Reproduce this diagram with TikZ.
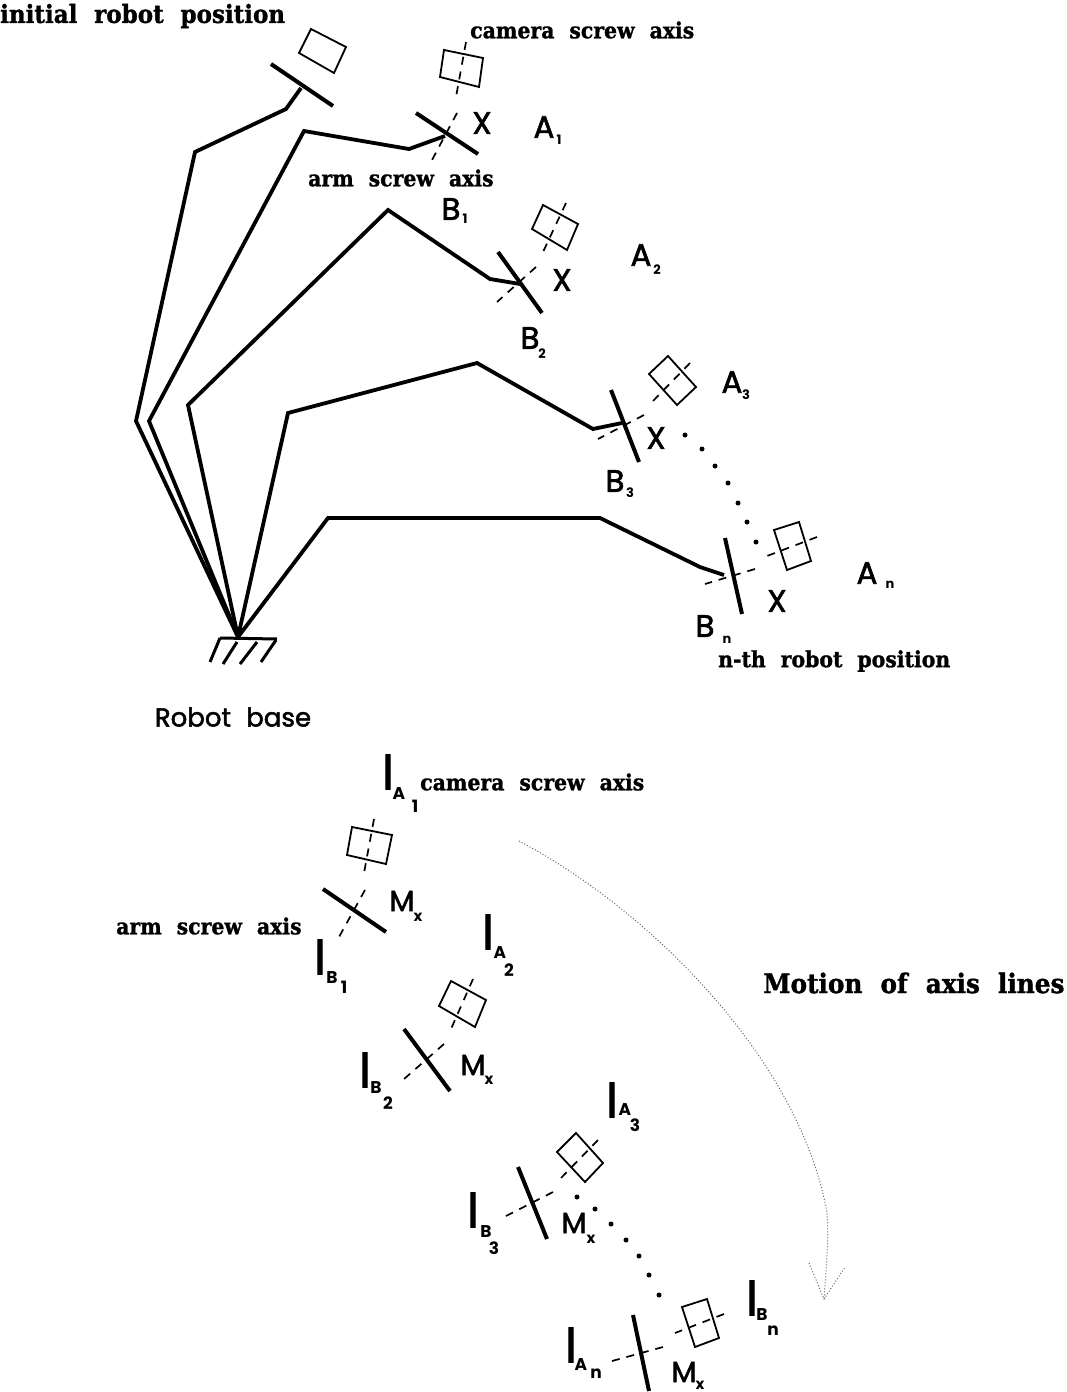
\documentclass[tikz,border=0pt]{standalone}
\usepackage{fontspec}
\usetikzlibrary{arrows.meta}
\newfontfamily\slabf[WordSpace=2.1,FakeStretch=0.92,FakeBold=1.2]{DejaVu Serif Bold}
\newfontfamily\gothf[WordSpace=2.2,FakeBold=2]{Poppins}
\newfontfamily\gothb{Poppins}
\tikzset{
 x=1pt,y=-1pt,
 armlink/.style={line width=3.8pt,line join=miter},
 flange/.style={line width=4pt},
 camrect/.style={line width=1.8pt,line join=miter},
 axisline/.style={line width=1.7pt,dash pattern=on 8pt off 7pt},
 slab/.style={font=\slabf\fontsize{22.2}{22.2}\selectfont,inner sep=0pt,anchor=west},
 biglet/.style={font=\gothf\fontsize{31}{31}\selectfont,inner sep=0pt},
 mlet/.style={font=\gothf\fontsize{29}{29}\selectfont,inner sep=0pt},
 sublet/.style={font=\gothb\bfseries\fontsize{13}{13}\selectfont,inner sep=0pt},
 capsm/.style={font=\gothb\bfseries\fontsize{17}{17}\selectfont,inner sep=0pt},
 barlet/.style={font=\gothf\fontsize{47}{47}\selectfont,inner sep=0pt},
 xsub/.style={font=\gothb\bfseries\fontsize{15}{15}\selectfont,inner sep=0pt},
 dotm/.style={circle,fill=black,inner sep=0pt,minimum size=5pt},
 motline/.style={line width=1pt,dotted,black!60},
}
\begin{document}
\begin{tikzpicture}
\useasboundingbox (0,0) rectangle (1067,1392);
\coordinate (base) at (238,637);
% robot links
\draw[armlink] (base) -- (136,421) -- (195,152) -- (286,109) -- (301,88);
\draw[armlink] (base) -- (149,421) -- (304,131) -- (409,149) -- (445,136);
\draw[armlink] (base) -- (188,405) -- (388,210) -- (490,279) -- (520,284);
\draw[armlink] (base) -- (288,413) -- (477,363) -- (593,429) -- (622,423);
\draw[armlink] (base) -- (328,518) -- (600,518) -- (700,567) -- (724,575);
% base hatch
\draw[line width=3pt] (220,638) -- (277,639);
\draw[line width=3pt] (220,638) -- (210,662);
\draw[line width=3pt] (237,642) -- (223,664);
\draw[line width=3pt] (257,642) -- (240,664);
\draw[line width=3pt] (276,640) -- (261,662);
% flanges upper
\draw[flange] (271,64) -- (333,106);
\draw[flange] (416,113) -- (478,154);
\draw[flange] (498,252) -- (542,313);
\draw[flange] (611,390) -- (639,462);
\draw[flange] (725,538) -- (742,614);
% cameras upper
\draw[camrect] (311,29) -- (346,47) -- (334,73) -- (299,53) -- cycle;
\draw[camrect] (444,50) -- (483,58) -- (479,87) -- (440,77) -- cycle;
\draw[camrect] (543,205) -- (578,224) -- (567,250) -- (532,229) -- cycle;
\draw[camrect] (668,356) -- (696,387) -- (677,405) -- (649,374) -- cycle;
\draw[camrect] (774,530) -- (799,522) -- (811,561) -- (787,570) -- cycle;
% axes upper
\draw[axisline] (466,42) -- (456,97) (457,113) -- (432,160);
\draw[axisline] (566,203) -- (543,252) (536,267) -- (497,302);
\draw[axisline] (690,363) -- (653,401) (644,415) -- (598,439);
\draw[axisline] (817,537) -- (767,556) (755,569) -- (705,584);
% dots upper
\foreach \x/\y in {685/435,702/449,715/466,728/483,738/503,747/522,756/542}
  \node[dotm] at (\x,\y) {};
% lower cameras and flanges
\draw[flange] (323,889) -- (386,932);
\draw[flange] (404,1029) -- (450,1091);
\draw[flange] (518,1167) -- (547,1239);
\draw[flange] (633,1315) -- (649,1391);
\draw[camrect] (352,827) -- (392,835) -- (386,864) -- (347,855) -- cycle;
\draw[camrect] (451,981) -- (486,1000) -- (475,1027) -- (439,1006) -- cycle;
\draw[camrect] (576,1133) -- (603,1163) -- (585,1182) -- (557,1152) -- cycle;
\draw[camrect] (682,1307) -- (707,1299) -- (719,1338) -- (695,1347) -- cycle;
\draw[axisline] (374,819) -- (364,873) (365,890) -- (339,937);
\draw[axisline] (473,979) -- (451,1029) (444,1044) -- (404,1079);
\draw[axisline] (598,1140) -- (561,1178) (553,1192) -- (506,1216);
\draw[axisline] (724,1314) -- (675,1333) (663,1347) -- (612,1361);
\foreach \x/\y in {577/1197,595/1209,611/1224,626/1240,639/1256,649/1275,659/1295}
  \node[dotm] at (\x,\y) {};
% motion arrow
\coordinate (mstart) at (519,841);
\coordinate (mtip) at (824,1299);
\draw[motline] (mstart) .. controls (650,910) and (800,1060) .. (827,1213) .. controls (829,1240) and (826,1270) .. (mtip);
\draw[motline] (809,1263) -- (mtip) -- (845,1267);
% wide serif labels
\node[slab,font=\slabf\fontsize{25}{25}\selectfont] (t1) at (0,16) {initial robot position};
\node[slab] (t2) at (470,30) {camera screw axis};
\node[slab] (t3) at (308,178) {arm screw axis};
\node[slab] (t4) at (718,661) {n-th robot position};
\node[slab] (t5) at (420,782) {camera screw axis};
\node[slab] (t6) at (116,926) {arm screw axis};
\node[slab,font=\slabf\fontsize{26.9}{26.9}\selectfont] (t7) at (763,983) {Motion of axis lines};
\node[font=\gothf\fontsize{26}{26}\selectfont,inner sep=0pt] (t8) at (233,717) {Robot base};
% upper letters
\node[biglet] (x1) at (482,123) {X};
\node[biglet] (x2) at (562,280) {X};
\node[biglet] (x3) at (656,438) {X};
\node[biglet] (x4) at (777,601) {X};
\node[biglet] (a1) at (544,127) {A};
\node[sublet] (a1s) at (559,140) {1};
\node[biglet] (a2) at (641,255) {A};
\node[sublet] (a2s) at (657,270) {2};
\node[biglet] (a3) at (732,382) {A};
\node[sublet] (a3s) at (746,395) {3};
\node[biglet] (an) at (867,573) {A};
\node[sublet] (ans) at (890,585) {n};
\node[biglet] (b1) at (451,209) {B};
\node[sublet] (b1s) at (465,219) {1};
\node[biglet] (b2) at (530,338) {B};
\node[sublet] (b2s) at (542,354) {2};
\node[biglet] (b3) at (615,481) {B};
\node[sublet] (b3s) at (630,493) {3};
\node[biglet] (bn) at (705,626) {B};
\node[sublet] (bns) at (727,640) {n};
% lower letters
\node[barlet] (la1) at (388,772) {l};
\node[capsm] (la1a) at (399,794) {A};
\node[capsm] (la1n) at (415,806) {1};
\node[barlet] (lb1) at (320,957) {l};
\node[capsm] (lb1b) at (332,978) {B};
\node[capsm] (lb1n) at (344,987) {1};
\node[barlet] (la2) at (488,932) {l};
\node[capsm] (la2a) at (500,953) {A};
\node[capsm] (la2n) at (509,970) {2};
\node[barlet] (lb2) at (365,1070) {l};
\node[capsm] (lb2b) at (376,1088) {B};
\node[capsm] (lb2n) at (388,1103) {2};
\node[barlet] (la3) at (612,1100) {l};
\node[capsm] (la3a) at (625,1110) {A};
\node[capsm] (la3n) at (635,1125) {3};
\node[barlet] (lb3) at (473,1210) {l};
\node[capsm] (lb3b) at (486,1232) {B};
\node[capsm] (lb3n) at (494,1248) {3};
\node[barlet] (lbn) at (752,1298) {l};
\node[capsm] (lbnb) at (762,1315) {B};
\node[capsm] (lbnn) at (773,1331) {n};
\node[barlet] (lan) at (571,1345) {l};
\node[capsm] (lana) at (581,1365) {A};
\node[capsm] (lann) at (596,1374) {n};
\node[mlet] (m1) at (402,901) {M};
\node[xsub] (m1x) at (418,917) {x};
\node[mlet] (m2) at (473,1065) {M};
\node[xsub] (m2x) at (489,1080) {x};
\node[mlet] (m3) at (574,1223) {M};
\node[xsub] (m3x) at (591,1239) {x};
\node[mlet] (m4) at (684,1372) {M};
\node[xsub] (m4x) at (700,1385) {x};
\end{tikzpicture}
\end{document}
